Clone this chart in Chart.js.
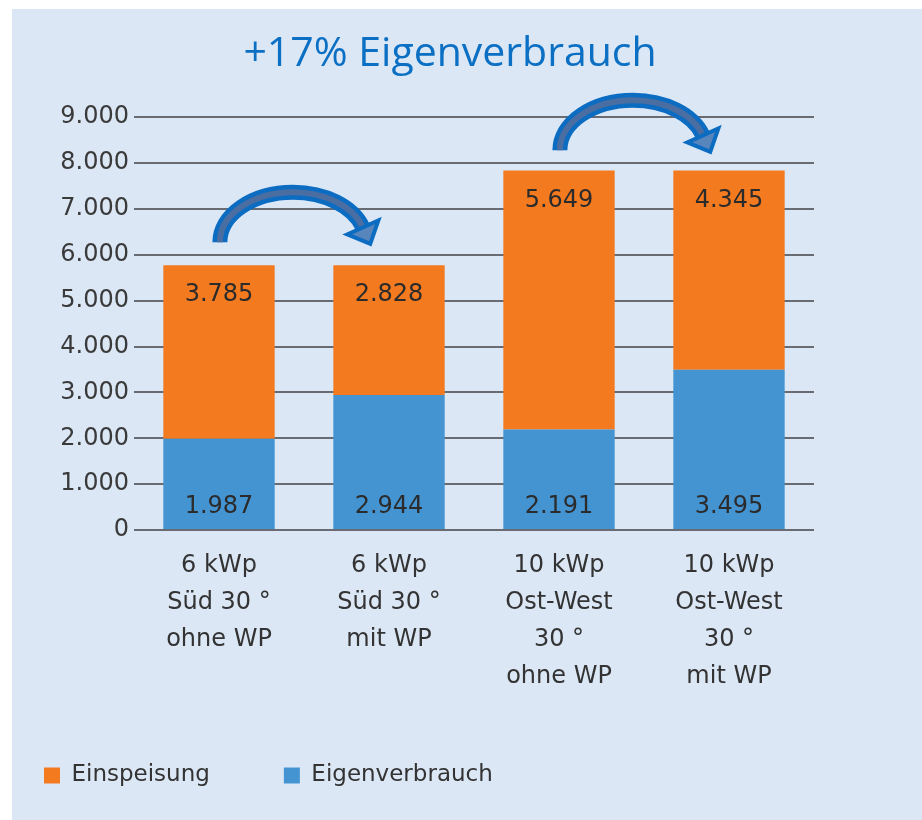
<!DOCTYPE html>
<html>
<head>
<meta charset="utf-8">
<script src="https://cdn.jsdelivr.net/npm/chart.js@4"></script>
<style>
    body { margin: 0; width: 922px; height: 820px; overflow: hidden; background: #fff; position: relative; }
    #panel { position: absolute; left: 12px; top: 9px; right: 0; bottom: 0; background: #dbe7f5; }
    #chart { position: absolute; left: -30px; top: 0; }
</style>
</head>
<body>
<div id="panel"></div>
<canvas id="chart" width="954" height="820"></canvas>
<script>
const categories = [
    ['6 kWp', 'Süd 30 °', 'ohne WP'],
    ['6 kWp', 'Süd 30 °', 'mit WP'],
    ['10 kWp', 'Ost-West', '30 °', 'ohne WP'],
    ['10 kWp', 'Ost-West', '30 °', 'mit WP']
];
const eigenverbrauch = [1987, 2944, 2191, 3495];
const einspeisung = [3785, 2828, 5649, 4345];
const yTicks = [0, 1000, 2000, 3000, 4000, 5000, 6000, 7000, 8000, 9000];
const titleText = '+17% Eigenverbrauch';
// arrows: from bar -> to bar, foot height in axis units
const arrows = [
    { from: 0, to: 1, y: 6275 },
    { from: 2, to: 3, y: 8280 }
];

const canvasLeft = -30;   // same as css left of the canvas
const titleCenter = 450;  // page x of the title centre

const colors = {
    orange: '#f47a20',
    blue: '#4494d2',
    grid: '#686c72',
    text: '#333333',
    title: '#0b6fc3',
    arrowEdge: '#0b6cc1',
    arrowFill: '#4a6ea2'
};

function fmt(v) {
    return String(v).replace(/\B(?=(\d{3})+(?!\d))/g, '.');
}

const titleShift = {
    id: 'titleShift',
    afterLayout(chart) {
        const t = chart.titleBlock;
        if (!t) return;
        t.left = 0;
        t.right = 2 * (titleCenter - canvasLeft);
    }
};

const valueLabels = {
    id: 'valueLabels',
    afterDatasetsDraw(chart) {
        const ctx = chart.ctx;
        ctx.save();
        ctx.font = '24px "DejaVu Sans"';
        ctx.fillStyle = '#2b2b2b';
        ctx.textAlign = 'center';
        ctx.textBaseline = 'middle';
        chart.data.datasets.forEach((ds, i) => {
            chart.getDatasetMeta(i).data.forEach((bar, j) => {
                const y = i === 0 ? bar.base - 22 : bar.y + 30;
                ctx.fillText(fmt(ds.data[j]), bar.x, y);
            });
        });
        ctx.restore();
    }
};

const curvedArrows = {
    id: 'curvedArrows',
    afterDatasetsDraw(chart) {
        const ctx = chart.ctx;
        const xs = chart.scales.x, ys = chart.scales.y;
        arrows.forEach(a => {
            const x0 = xs.getPixelForValue(a.from);
            const x1 = xs.getPixelForValue(a.to);
            const cx = (x0 + x1) / 2 - 11;
            const cy = ys.getPixelForValue(a.y);
            const rx = (x1 - x0) * 0.43;
            const ry = 50;
            const endA = 2 * Math.PI - 0.3;
            const ex = cx + rx * Math.cos(endA);
            const ey = cy + ry * Math.sin(endA);
            // tangent direction at the end
            let tx = -rx * Math.sin(endA), ty = ry * Math.cos(endA);
            const tl = Math.hypot(tx, ty);
            tx /= tl; ty /= tl;
            const nx = -ty, ny = tx;
            ctx.save();
            ctx.lineCap = 'butt';
            ctx.beginPath();
            ctx.ellipse(cx, cy, rx, ry, 0, Math.PI, endA);
            ctx.strokeStyle = colors.arrowEdge;
            ctx.lineWidth = 15;
            ctx.stroke();
            ctx.beginPath();
            ctx.ellipse(cx, cy, rx, ry, 0, Math.PI, endA);
            ctx.strokeStyle = colors.arrowFill;
            ctx.lineWidth = 6;
            ctx.stroke();
            // head
            ctx.beginPath();
            ctx.moveTo(ex + nx * 17, ey + ny * 17);
            ctx.lineTo(ex + tx * 18, ey + ty * 18);
            ctx.lineTo(ex - nx * 17, ey - ny * 17);
            ctx.closePath();
            ctx.fillStyle = '#5985bd';
            ctx.fill();
            ctx.lineJoin = 'miter';
            ctx.lineWidth = 4;
            ctx.strokeStyle = colors.arrowEdge;
            ctx.stroke();
            ctx.restore();
        });
    }
};

const ctx = document.getElementById('chart').getContext('2d');
const chart = new Chart(ctx, {
    type: 'bar',
    data: {
        labels: categories,
        datasets: [{
            label: 'Eigenverbrauch',
            data: eigenverbrauch,
            backgroundColor: colors.blue,
            borderWidth: 0
        }, {
            label: 'Einspeisung',
            data: einspeisung,
            backgroundColor: colors.orange,
            borderWidth: 0
        }]
    },
    options: {
        responsive: false,
        animation: false,
        devicePixelRatio: 1,
        categoryPercentage: 1,
        barPercentage: 0.655,
        layout: {
            padding: { top: 0, right: 110, bottom: 23, left: 0 }
        },
        plugins: {
            title: {
                display: true,
                text: titleText,
                color: colors.title,
                font: { family: 'Open Sans', size: 41, weight: 'normal', lineHeight: 1.2 },
                padding: { top: 30, bottom: 38 }
            },
            legend: {
                position: 'bottom',
                align: 'start',
                reverse: true,
                labels: {
                    boxWidth: 16,
                    boxHeight: 16,
                    padding: 74,
                    color: colors.text,
                    font: { family: 'DejaVu Sans', size: 23 }
                }
            },
            tooltip: { enabled: false }
        },
        scales: {
            x: {
                stacked: true,
                grid: { display: false },
                border: { display: false },
                afterFit: (scale) => { scale.height = 160; },
                ticks: {
                    color: colors.text,
                    padding: 9,
                    maxRotation: 0,
                    autoSkip: false,
                    font: { family: 'DejaVu Sans', size: 24, lineHeight: 1.5417 }
                }
            },
            y: {
                stacked: true,
                min: 0,
                max: 9000,
                afterFit: (scale) => { scale.width = 164; },
                afterBuildTicks: (scale) => { scale.ticks = yTicks.map(v => ({ value: v })); },
                border: { display: false },
                grid: {
                    color: colors.grid,
                    lineWidth: 2,
                    drawTicks: false
                },
                ticks: {
                    color: '#3a3a3a',
                    padding: 5,
                    font: { family: 'DejaVu Sans', size: 24 },
                    callback: (v) => fmt(v)
                }
            }
        }
    },
    plugins: [titleShift, valueLabels, curvedArrows]
});
</script>
</body>
</html>
